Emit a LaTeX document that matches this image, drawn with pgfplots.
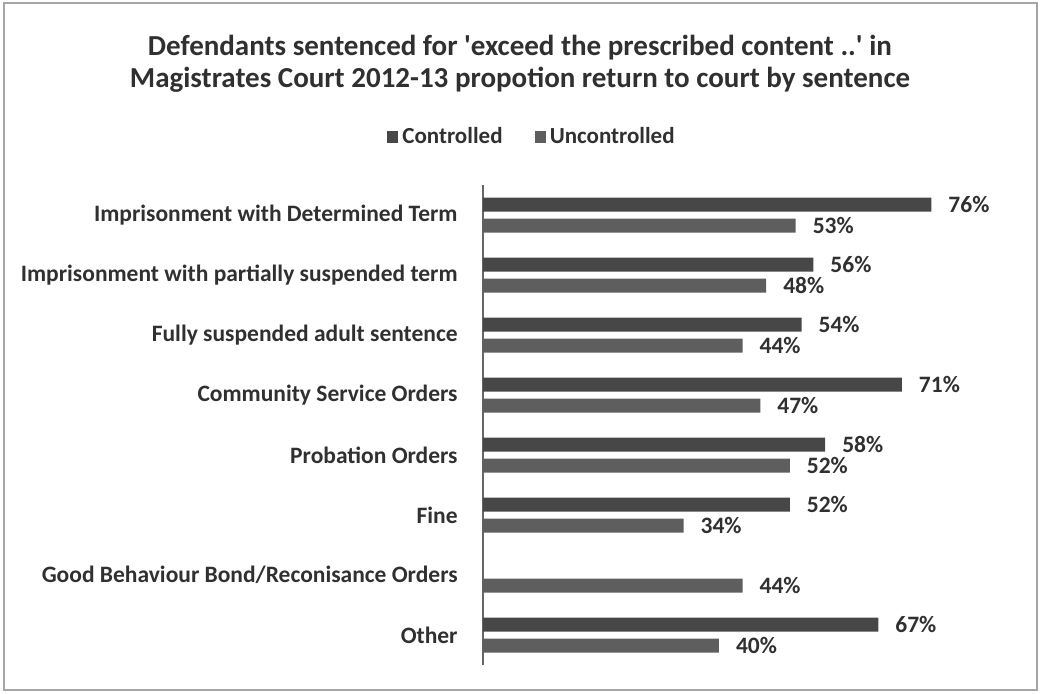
\documentclass[border=0pt]{standalone}
\usepackage{fontspec}
\setmainfont{Carlito}
\usepackage{pgfplots}
\pgfplotsset{compat=1.18}
\definecolor{ctrl}{HTML}{474747}
\definecolor{unctrl}{HTML}{5E5E5E}
\definecolor{txt}{HTML}{303030}
\begin{document}
\begin{tikzpicture}
\path (0pt,0pt) rectangle (520.5pt,346.5pt);
\draw[gray!70, line width=0.6pt] (2pt,1.5pt) rectangle (518.5pt,345pt);
\begin{axis}[
  at={(241.5pt,14pt)}, anchor=south west,
  scale only axis, width=265.5pt, height=240pt,
  xbar, xmin=0, xmax=90, ymin=-0.5, ymax=7.5,
  axis x line=none, axis y line*=left,
  y axis line style={gray!80!black, line width=0.7pt},
  ytick={0,1,2,3,4,5,6,7},
  yticklabels={Other, Good Behaviour Bond/Reconisance Orders, Fine, Probation Orders, Community Service Orders, Fully suspended adult sentence, Imprisonment with partially suspended term, Imprisonment with Determined Term},
  major tick length=0pt,
  yticklabel style={anchor=east, inner sep=0pt, xshift=-12.5pt, font=\bfseries\fontsize{11.75}{13}\selectfont, text=txt},
  point meta=x,
  /pgf/number format/assume math mode=true,
  nodes near coords={\pgfmathprintnumber{\pgfplotspointmeta}\%},
  nodes near coords style={anchor=west, xshift=5pt, font=\bfseries\fontsize{11.75}{13}\selectfont, text=txt},
  bar width=7pt,
  legend columns=2,
  legend style={at={(0.094,1.10)}, anchor=center, draw=none, fill=none, font=\bfseries\fontsize{11.5}{13}\selectfont, text=txt, /tikz/every even column/.append style={column sep=14pt}},
  legend image code/.code={\path[#1,draw=none] (0pt,-2.8pt) rectangle (5.6pt,2.8pt);},
  title={Defendants sentenced for \textquotesingle exceed the prescribed content ..\textquotesingle\ in\\Magistrates Court 2012-13 propotion return to court by sentence},
  title style={at={(0.0697,1.227)}, anchor=center, align=center, font=\bfseries\fontsize{14.5}{16}\selectfont, text=txt},
]
\addplot[fill=ctrl, draw=none, bar shift=5.25pt] coordinates {(76,7) (56,6) (54,5) (71,4) (58,3) (52,2) (67,0)};
\addplot[fill=unctrl, draw=none, bar shift=-5.25pt] coordinates {(53,7) (48,6) (44,5) (47,4) (52,3) (34,2) (44,1) (40,0)};
\legend{Controlled, Uncontrolled}
\end{axis}
\end{tikzpicture}
\end{document}
